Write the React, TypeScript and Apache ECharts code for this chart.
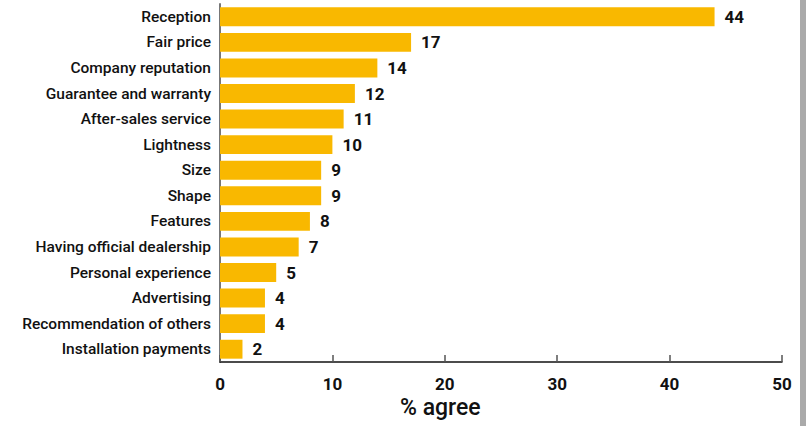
import React, { useEffect, useRef } from "react";
import * as echarts from "echarts";

const categories = [
  "Reception",
  "Fair price",
  "Company reputation",
  "Guarantee and warranty",
  "After-sales service",
  "Lightness",
  "Size",
  "Shape",
  "Features",
  "Having official dealership",
  "Personal experience",
  "Advertising",
  "Recommendation of others",
  "Installation payments",
];
const values = [44, 17, 14, 12, 11, 10, 9, 9, 8, 7, 5, 4, 4, 2];
const xTicks = [0, 10, 20, 30, 40, 50];
const axisTitle = "% agree";

const FONT = "Roboto, sans-serif";

export default function App() {
  const ref = useRef<HTMLDivElement>(null);
  useEffect(() => {
    document.body.style.margin = "0";
    const chart = echarts.init(ref.current!, null, { renderer: "svg" });
    chart.setOption({
      animation: false,
      backgroundColor: "#ffffff",
      grid: { left: 220, right: 24, top: 4, bottom: 64, containLabel: false },
      xAxis: {
        type: "value",
        min: xTicks[0],
        max: xTicks[xTicks.length - 1],
        interval: 10,
        splitLine: { show: false },
        axisLine: { show: true, lineStyle: { color: "#111", width: 1.5 } },
        axisTick: { show: true, inside: true, length: 7, lineStyle: { color: "#555", width: 1.5 } },
        axisLabel: {
          color: "#111",
          fontFamily: FONT,
          fontWeight: "bold",
          fontSize: 17,
          margin: 13,
        },
      },
      yAxis: {
        type: "category",
        data: categories,
        inverse: true,
        axisLine: { show: true, lineStyle: { color: "#777", width: 2 } },
        axisTick: { show: false },
        axisLabel: {
          color: "#111",
          fontFamily: FONT,
          fontWeight: 500,
          fontSize: 15.5,
          margin: 9,
        },
      },
      series: [
        {
          type: "bar",
          data: values,
          barWidth: "74%",
          itemStyle: { color: "#F9B800" },
          label: {
            show: true,
            position: "right",
            distance: 10,
            color: "#111",
            fontFamily: FONT,
            fontWeight: "bold",
            fontSize: 17,
          },
        },
      ],
      graphic: [
        {
          type: "text",
          left: 400,
          top: 396,
          style: {
            text: axisTitle,
            fill: "#111",
            font: `500 23px ${FONT}`,
          },
        },
        {
          type: "rect",
          shape: { x: 800, y: 0, width: 6, height: 426 },
          style: { fill: "#aaaaaa" },
        },
      ],
    });
    return () => chart.dispose();
  }, []);
  return <div ref={ref} style={{ width: 806, height: 426, position: "absolute", left: 0, top: 0 }} />;
}
